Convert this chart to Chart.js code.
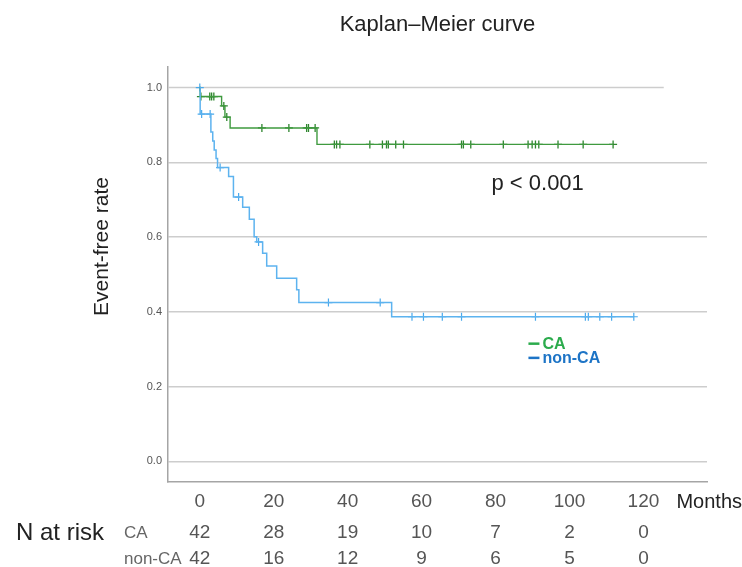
<!DOCTYPE html>
<html>
<head>
<meta charset="utf-8">
<script src="https://cdn.jsdelivr.net/npm/chart.js@4"></script>
<style>
  html, body { margin: 0; padding: 0; background: #fff; }
</style>
</head>
<body>
<canvas id="km" width="742" height="567"></canvas>
<script>
// CA group: event times (months) and survival level after each event
const caEventTimes = [0.1, 5.9, 6.8, 8.2, 31.7];
const caEventLevels = [0.976, 0.951, 0.921, 0.892, 0.848];
const caCensorTimes = [0.3, 2.7, 3.2, 3.8, 6.5, 7.3, 16.8, 24.1, 28.9, 29.4, 31.2,
  36.4, 37.0, 37.9, 46.0, 49.4, 50.5, 51.0, 53.0, 55.1, 70.8, 71.3, 73.3,
  82.1, 88.8, 89.9, 90.8, 91.7, 96.9, 103.7, 111.8];

// non-CA group
const nonCaEventTimes = [0.1, 3.0, 3.5, 3.9, 4.4, 4.8, 7.8, 9.1, 11.6, 13.4, 14.7,
  15.4, 17.0, 18.1, 20.8, 26.2, 26.8, 51.9];
const nonCaEventLevels = [0.929, 0.881, 0.857, 0.833, 0.810, 0.786, 0.762, 0.707,
  0.680, 0.648, 0.601, 0.587, 0.557, 0.523, 0.490, 0.459, 0.425, 0.387];
const nonCaCensorTimes = [0, 0.5, 2.8, 5.5, 10.5, 15.9, 34.8, 48.8, 57.4, 60.5,
  65.6, 70.8, 90.8, 104.3, 105.1, 108.2, 111.4, 117.4];

// number at risk table
const riskTimes = [0, 20, 40, 60, 80, 100, 120];
const caAtRisk = [42, 28, 19, 10, 7, 2, 0];
const nonCaAtRisk = [42, 16, 12, 9, 6, 5, 0];

const yTickValues = [0, 0.2, 0.4, 0.6, 0.8, 1.0];
const pValueText = 'p < 0.001';

const FONT = "'Liberation Sans', Arial, sans-serif";
const NARROW = "'Liberation Sans Narrow', 'Liberation Sans', Arial, sans-serif";
const caLine = '#3f9a3f';
const nonCaLine = '#5db3ef';
const gridColor = '#cdcdcd';

// level of the step curve at time t
function levelAt(times, levels, t) {
  let v = 1;
  for (let i = 0; i < times.length; i++) {
    if (times[i] <= t) v = levels[i];
  }
  return v;
}

function curvePoints(times, levels, censors) {
  const pts = [{ x: 0, y: 1 }];
  times.forEach((t, i) => pts.push({ x: t, y: levels[i] }));
  const last = Math.max(...censors);
  pts.push({ x: last, y: levelAt(times, levels, last) });
  return pts;
}

function censorPoints(times, levels, censors) {
  return censors.map(t => ({ x: t, y: levelAt(times, levels, t) }));
}

Chart.defaults.font.family = FONT;

const decor = {
  id: 'decor',
  beforeDatasetsDraw(chart) {
    const { ctx, chartArea, scales: { x, y } } = chart;
    // the 1.0 gridline stops short of the right edge in the original
    ctx.save();
    ctx.strokeStyle = gridColor;
    ctx.lineWidth = 1.5;
    const py = y.getPixelForValue(1);
    ctx.beginPath();
    ctx.moveTo(chartArea.left, py);
    ctx.lineTo(x.getPixelForValue(125.5), py);
    ctx.stroke();
    ctx.restore();
  },
  afterDraw(chart) {
    const { ctx, chartArea, scales: { x, y } } = chart;
    ctx.save();

    // y axis title
    ctx.save();
    ctx.translate(102, y.getPixelForValue(0.575));
    ctx.rotate(-Math.PI / 2);
    ctx.font = '21px ' + FONT;
    ctx.fillStyle = '#222';
    ctx.textAlign = 'center';
    ctx.textBaseline = 'middle';
    ctx.fillText('Event-free rate', 0, 0);
    ctx.restore();

    // p value
    ctx.font = '22px ' + FONT;
    ctx.fillStyle = '#222';
    ctx.textAlign = 'left';
    ctx.textBaseline = 'alphabetic';
    ctx.fillText(pValueText, x.getPixelForValue(78.9), y.getPixelForValue(0.725));

    // legend
    const legendItems = [
      { label: 'CA', color: '#2bab4c', v: 0.315 },
      { label: 'non-CA', color: '#1d74c6', v: 0.277 }
    ];
    const lx = x.getPixelForValue(88.9);
    legendItems.forEach(item => {
      const ly = y.getPixelForValue(item.v);
      ctx.strokeStyle = item.color;
      ctx.lineWidth = 2.5;
      ctx.beginPath();
      ctx.moveTo(lx, ly);
      ctx.lineTo(lx + 11, ly);
      ctx.stroke();
      ctx.font = 'bold 16px ' + FONT;
      ctx.fillStyle = item.color;
      ctx.textBaseline = 'middle';
      ctx.fillText(item.label, lx + 14, ly + 1);
    });

    // x unit label
    ctx.font = '20px ' + FONT;
    ctx.fillStyle = '#222';
    ctx.textAlign = 'left';
    ctx.textBaseline = 'middle';
    ctx.fillText('Months', x.getPixelForValue(120) + 33, chartArea.bottom + 20);

    // number at risk table
    const row1 = chartArea.bottom + 51;
    const row2 = chartArea.bottom + 77;
    ctx.font = '24px ' + FONT;
    ctx.fillStyle = '#222';
    ctx.fillText('N at risk', 16, row1);
    ctx.font = '17px ' + NARROW;
    ctx.fillStyle = '#666';
    ctx.fillText('CA', 124, row1);
    ctx.fillText('non-CA', 124, row2);
    ctx.font = '19px ' + FONT;
    ctx.fillStyle = '#555';
    ctx.textAlign = 'center';
    riskTimes.forEach((t, i) => {
      const px = x.getPixelForValue(t);
      ctx.fillText(String(caAtRisk[i]), px, row1);
      ctx.fillText(String(nonCaAtRisk[i]), px, row2);
    });

    ctx.restore();
  }
};

new Chart(document.getElementById('km'), {
  type: 'line',
  data: {
    datasets: [
      {
        label: 'non-CA',
        data: curvePoints(nonCaEventTimes, nonCaEventLevels, nonCaCensorTimes),
        borderColor: nonCaLine,
        borderWidth: 1.5,
        stepped: true,
        pointRadius: 0,
        fill: false
      },
      {
        label: 'CA',
        data: curvePoints(caEventTimes, caEventLevels, caCensorTimes),
        borderColor: caLine,
        borderWidth: 1.4,
        stepped: true,
        pointRadius: 0,
        fill: false
      },
      {
        label: 'non-CA censored',
        data: censorPoints(nonCaEventTimes, nonCaEventLevels, nonCaCensorTimes),
        showLine: false,
        pointStyle: 'cross',
        pointRadius: 4,
        pointBorderWidth: 1.2,
        borderColor: '#4aa9ec',
        pointBorderColor: '#4aa9ec'
      },
      {
        label: 'CA censored',
        data: censorPoints(caEventTimes, caEventLevels, caCensorTimes),
        showLine: false,
        pointStyle: 'cross',
        pointRadius: 4,
        pointBorderWidth: 1.3,
        borderColor: '#2f862f',
        pointBorderColor: '#2f862f'
      }
    ]
  },
  options: {
    responsive: false,
    animation: false,
    devicePixelRatio: 1,
    layout: { padding: { left: 0, right: 35, top: 0, bottom: 0 } },
    plugins: {
      legend: { display: false },
      tooltip: { enabled: false },
      title: {
        display: true,
        text: 'Kaplan–Meier curve',
        fullSize: false,
        color: '#222',
        font: { size: 22, weight: 'normal' },
        padding: { top: 12, bottom: 28.6 }
      }
    },
    scales: {
      x: {
        type: 'linear',
        min: -8.6,
        max: 137.2,
        afterBuildTicks: axis => { axis.ticks = riskTimes.map(v => ({ value: v })); },
        afterFit: axis => { axis.height = 85; },
        grid: { display: false, drawTicks: false },
        border: { display: true, color: '#a5a5a5', width: 1.5 },
        ticks: {
          padding: 8,
          color: '#555',
          font: { size: 19 },
          maxRotation: 0,
          callback: v => String(v)
        }
      },
      y: {
        type: 'linear',
        min: -0.055,
        max: 1.055,
        afterBuildTicks: axis => { axis.ticks = yTickValues.map(v => ({ value: v })); },
        afterFit: axis => { axis.width = 168; },
        grid: {
          drawTicks: false,
          lineWidth: 1.5,
          color: c => (c.tick && c.tick.value === 1 ? 'rgba(0,0,0,0)' : gridColor)
        },
        border: { display: true, color: '#a5a5a5', width: 1.5 },
        ticks: {
          padding: 6,
          color: '#555',
          font: { size: 11 },
          callback: v => v.toFixed(1)
        }
      }
    }
  },
  plugins: [decor]
});
</script>
</body>
</html>
